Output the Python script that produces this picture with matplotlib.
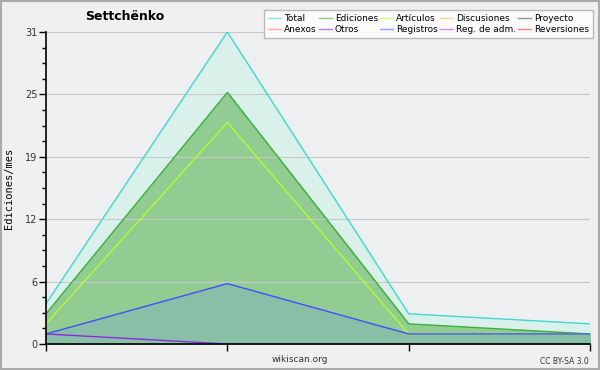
import matplotlib
matplotlib.use("Agg")
import matplotlib.pyplot as plt
from matplotlib.lines import Line2D
from matplotlib.patches import Rectangle
import numpy as np

# monthly edits, four months
months = [0, 1, 2, 3]
total = [4, 31, 3, 2]
ediciones = [3, 25, 2, 1]
articulos = [2, 22, 1, 1]
registros = [1, 6, 1, 1]
otros = [1, 0, 0, 0]

legend_names = ["Total", "Ediciones", "Artículos", "Discusiones", "Proyecto",
                "Anexos", "Otros", "Registros", "Reg. de adm.", "Reversiones"]
legend_colors = ["#40d8d0", "#3cb03c", "#adff2f", "#f4c430", "#555555",
                 "#ff7f50", "#8a2be2", "#5060ff", "#cc44cc", "#ee3333"]

ymax = 31
major = np.linspace(0, ymax, 6)
minor = np.linspace(0, ymax, 21)

fig = plt.figure(figsize=(6, 3.7), dpi=100, facecolor="#f0f0f0")
fig.add_artist(Rectangle((0.0015, 0.0025), 0.997, 0.995, transform=fig.transFigure,
                         fill=False, edgecolor="#aaaaaa", linewidth=1.5))
ax = fig.add_axes([46 / 600, 26 / 370, 544 / 600, 312 / 370])
ax.set_facecolor("#eeeff1")

ax.fill_between(months, total, color="#d9f1ea", zorder=1)
ax.plot(months, total, color="#40d8d0", lw=1, zorder=5)
ax.fill_between(months, ediciones, color="#93cc93", zorder=2)
ax.plot(months, ediciones, color="#3cb03c", lw=1, zorder=5)
ax.plot(months, articulos, color="#adff2f", lw=1, zorder=5)
ax.fill_between(months, registros, color="#88bfa6", zorder=3)
ax.plot(months, registros, color="#4050ff", lw=1, zorder=5)
ax.plot(months, otros, color="#8a2be2", lw=1, zorder=5)

ax.set_xlim(0, 3)
ax.set_ylim(0, ymax)
ax.set_yticks(major)
ax.set_yticklabels([f"{v:.0f}" for v in major])
ax.set_yticks(minor, minor=True)
ax.set_xticks(months)
ax.set_xticklabels([])
ax.grid(axis="y", which="major", color="#c8c8c8", lw=0.8, zorder=4)
ax.set_axisbelow(False)
for s in ["top", "right"]:
    ax.spines[s].set_visible(False)
for s in ["left", "bottom"]:
    ax.spines[s].set_linewidth(1.2)
    ax.spines[s].set_zorder(6)
ax.tick_params(axis="both", which="major", length=5, width=1, labelsize=7, colors="black",
               labelcolor="#333333", pad=1)
ax.tick_params(axis="y", which="minor", length=3, width=1)
ax.set_ylabel("Ediciones/mes", family="DejaVu Sans Mono", fontsize=7.5, labelpad=8)

fig.text(125 / 600, 1 - 17 / 370, "Settchënko", fontsize=9, fontweight="bold", ha="center", va="center")
fig.text(300 / 600, 1 - 360 / 370, "wikiscan.org", fontsize=6.5, color="#333333", ha="center", va="center")
fig.text(589 / 600, 1 - 361 / 370, "CC BY-SA 3.0", fontsize=5.5, color="#333333", ha="right", va="center")

handles = [Line2D([], [], color=c, lw=1, alpha=0.6) for c in legend_colors]
order = [0, 5, 1, 6, 2, 7, 3, 8, 4, 9]
leg = fig.legend([handles[i] for i in order], [legend_names[i] for i in order],
                 ncol=5, loc="upper right", bbox_to_anchor=(593 / 600, 1 - 10 / 370),
                 fontsize=6.5, frameon=True, fancybox=False, shadow=False,
                 handlelength=1.5, handletextpad=0.3, columnspacing=0.2,
                 labelspacing=0.2, borderpad=0.45, borderaxespad=0)
leg.get_frame().set_facecolor("white")
leg.get_frame().set_edgecolor("#aaaaaa")
leg.get_frame().set_linewidth(1)

fig.savefig("out.png", dpi=100, facecolor=fig.get_facecolor())
